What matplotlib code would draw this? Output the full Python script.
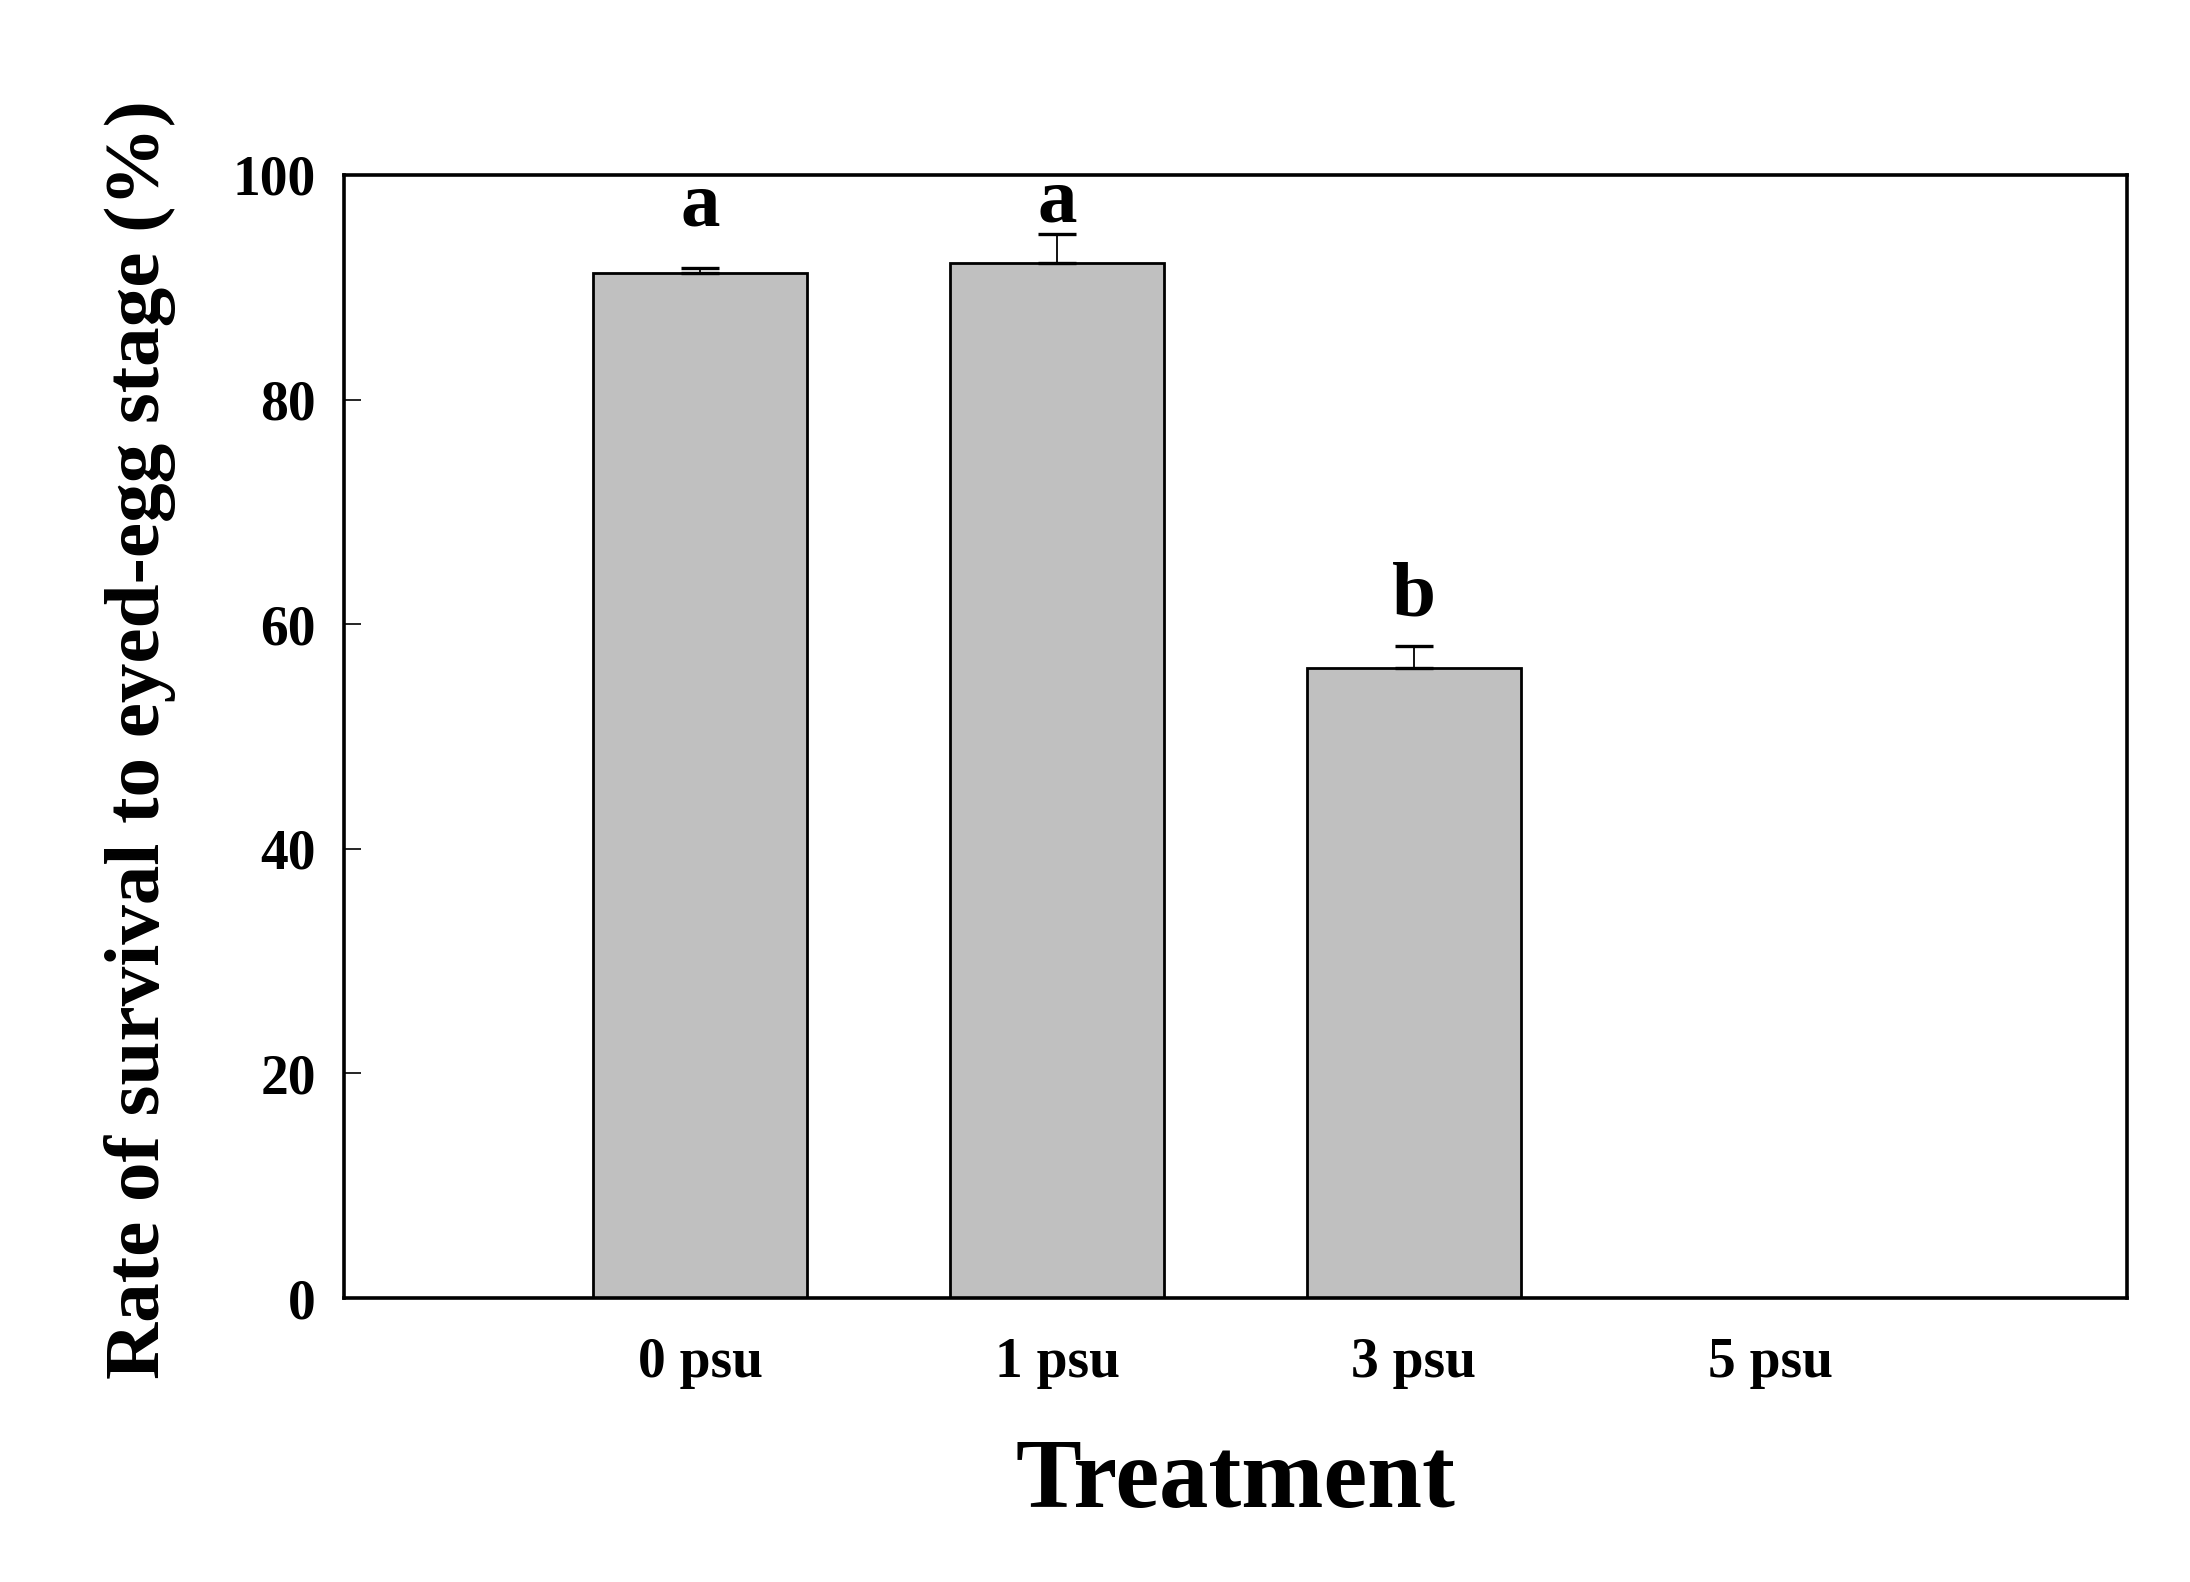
import matplotlib as mpl
import matplotlib.pyplot as plt
import numpy as np

# Survival to eyed-egg stage by salinity treatment
treatments = ["0 psu", "1 psu", "3 psu", "5 psu"]
survival = [91.3, 92.2, 56.1, 0.0]
survival_se = [0.4, 2.5, 2.0, 0.0]
groups = ["a", "a", "b", ""]
group_y = [95.5, 95.9, 60.8, 0.0]

mpl.rcParams["font.family"] = ["Liberation Serif", "DejaVu Serif"]
mpl.rcParams["font.weight"] = "bold"

fig = plt.figure(figsize=(21.9, 15.82), dpi=100)
ax = fig.add_axes([0.157, 0.1795, 0.8142, 0.7099])

x = np.arange(len(treatments))
vals = np.array(survival)
errs = np.array(survival_se)

ax.bar(x, vals, width=0.6, color="#c0c0c0", edgecolor="black",
       linewidth=2.0, zorder=2)

has_bar = vals > 0
ax.errorbar(x[has_bar], vals[has_bar],
            yerr=[np.zeros(has_bar.sum()), errs[has_bar]],
            fmt="none", ecolor="black", elinewidth=1.3,
            capsize=14, capthick=2.4, zorder=3)

for xi, label, yi in zip(x, groups, group_y):
    if label:
        ax.text(xi, yi, label, ha="center", va="baseline",
                fontsize=57, fontweight="bold")

ax.set_xlim(-1, 4)
ax.set_ylim(0, 100)
ax.set_xticks(x)
ax.set_xticklabels(treatments)
ax.set_yticks(np.arange(0, 101, 20))

ax.tick_params(axis="x", length=0, pad=28, labelsize=40)
ax.tick_params(axis="y", direction="in", length=12, width=1.2,
               pad=20, labelsize=40)
for lbl in ax.get_xticklabels() + ax.get_yticklabels():
    lbl.set_fontweight("bold")

for spine in ax.spines.values():
    spine.set_linewidth(2.6)

ax.set_ylabel("Rate of survival to eyed-egg stage (%)",
              fontsize=57, fontweight="bold")
ax.yaxis.set_label_coords(-0.094, 0.497)

ax.set_xlabel("Treatment", fontsize=71, fontweight="bold")
ax.xaxis.label.set_verticalalignment("baseline")
ax.xaxis.set_label_coords(0.5, -0.186)

fig.savefig("out.png", dpi=100, facecolor="white")
